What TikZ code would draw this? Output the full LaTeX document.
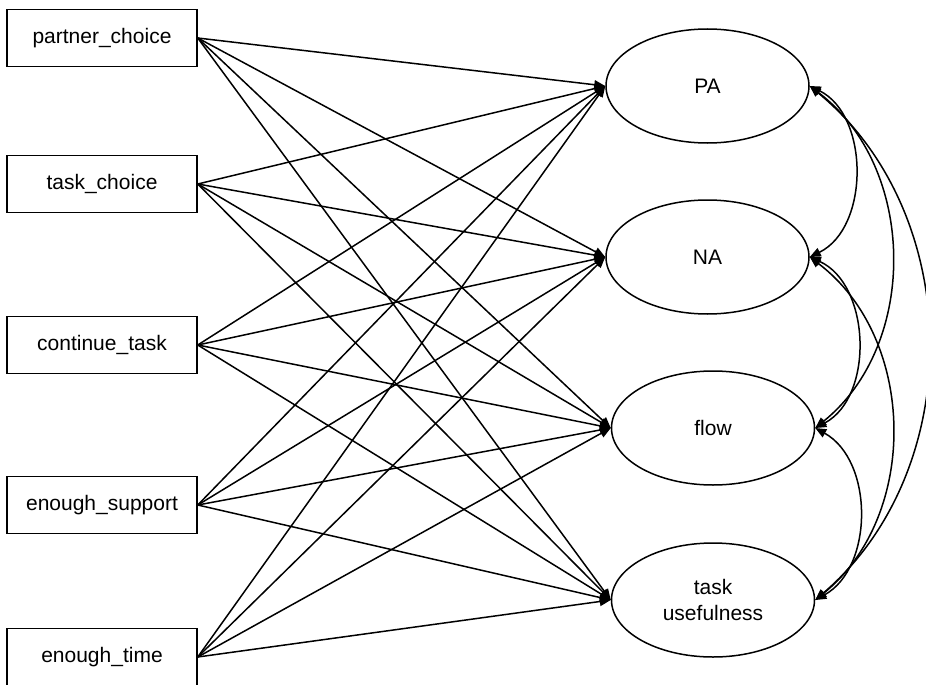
\documentclass[tikz,border=0pt]{standalone}
\usepackage{fontspec}
\setmainfont{Liberation Sans}
\usetikzlibrary{arrows.meta,shapes.geometric}
\begin{document}
\begin{tikzpicture}[x=1pt,y=-1pt,
  obs/.style={draw,line width=1.5pt,rectangle,minimum width=190pt,minimum height=57pt,inner sep=0pt,font=\fontsize{21}{25}\selectfont},
  lat/.style={draw,line width=1.5pt,ellipse,minimum width=203pt,minimum height=114pt,inner sep=0pt,align=center,font=\fontsize{21}{25.5}\selectfont},
  path/.style={line width=1.5pt,-{Triangle[length=11pt,width=9pt]}},
  cov/.style={line width=1.5pt,{Triangle[length=11pt,width=9pt]}-{Triangle[length=11pt,width=9pt]}}]
\useasboundingbox (0,0) rectangle (926,685);
\node[obs] (pc) at (102,38) {partner\_choice};
\node[obs] (tc) at (102,184) {task\_choice};
\node[obs] (ct) at (102,345) {continue\_task};
\node[obs] (es) at (102,505) {enough\_support};
\node[obs] (et) at (102,657) {enough\_time};
\node[lat] (pa) at (707.5,86) {PA};
\node[lat] (na) at (707.5,257) {NA};
\node[lat] (fl) at (713,428) {flow};
\node[lat] (tu) at (713,600) {task\\usefulness};
\foreach \s in {pc,tc,ct,es,et}
  \foreach \t in {pa,na,fl,tu}
    \draw[path] (\s.east) -- (\t.west);
\draw[cov] (pa.east) to[bend left=64] (na.east);
\draw[cov] (pa.east) to[bend left=52] (fl.east);
\draw[cov] (pa.east) to[bend left=50] (tu.east);
\draw[cov] (na.east) to[bend left=64] (fl.east);
\draw[cov] (na.east) to[bend left=52] (tu.east);
\draw[cov] (fl.east) to[bend left=61] (tu.east);
\end{tikzpicture}
\end{document}
